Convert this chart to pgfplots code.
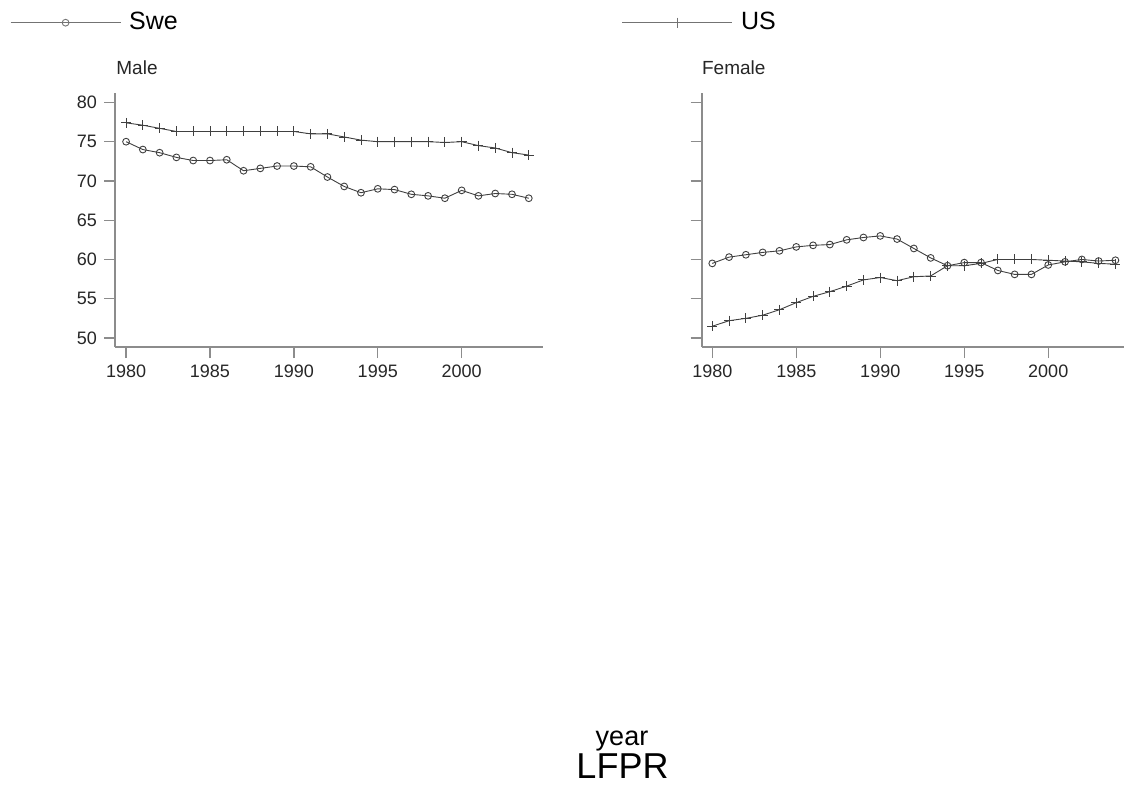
\documentclass[border=0pt]{standalone}
\usepackage{fontspec}
\setmainfont{Liberation Sans}
\usepackage{pgfplots}
\pgfplotsset{compat=1.18}
\usepackage{pgfplotstable}

\pgfplotstableread{
year swem usm swef usf
1980 75.0 77.4 59.5 51.5
1981 74.0 77.1 60.3 52.2
1982 73.6 76.7 60.6 52.5
1983 73.0 76.3 60.9 52.9
1984 72.6 76.3 61.1 53.6
1985 72.6 76.3 61.6 54.5
1986 72.7 76.3 61.8 55.3
1987 71.3 76.3 61.9 55.9
1988 71.6 76.3 62.5 56.6
1989 71.9 76.3 62.8 57.4
1990 71.9 76.3 63.0 57.7
1991 71.8 76.0 62.6 57.3
1992 70.5 76.0 61.4 57.8
1993 69.3 75.6 60.2 57.9
1994 68.5 75.2 59.2 59.2
1995 69.0 75.0 59.6 59.2
1996 68.9 75.0 59.6 59.5
1997 68.3 75.0 58.6 60.0
1998 68.1 75.0 58.1 60.0
1999 67.8 74.9 58.1 60.0
2000 68.8 75.0 59.3 59.9
2001 68.1 74.5 59.7 59.8
2002 68.4 74.2 60.0 59.7
2003 68.3 73.6 59.8 59.5
2004 67.8 73.3 59.9 59.4
}\lfpr

\pgfplotsset{
  panel/.style={
    scale only axis,
    axis lines=left,
    axis line style={-, black!45, line width=0.8pt},
    tick align=outside,
    major tick length=5.5pt,
    tick style={black!45, line width=0.7pt},
    xtick={1980,1985,...,2000},
    ytick={50,55,...,80},
    ymin=48.85, ymax=81.2,
    height=127pt,
    clip=false,
    ticklabel style={font=\fontsize{9}{10}\selectfont, text=black!85},
    /pgf/number format/1000 sep={},
    /pgf/number format/assume math mode=true,
  },
  swe/.style={black!75, line width=0.45pt, mark=o, mark size=1.7pt, mark options={solid, line width=0.45pt}},
  us/.style={black!75, line width=0.45pt, mark=+, mark size=2.5pt, mark options={solid, line width=0.45pt}},
}

\begin{document}
\begin{tikzpicture}
\path[use as bounding box] (0pt,0pt) rectangle (562.5pt,-394.5pt);

\begin{axis}[panel,
  at={(57.5pt,-173.5pt)}, anchor=south west,
  width=213.85pt,
  xmin=1979.34, xmax=2004.83,
  legend columns=2,
  legend image code/.code={\draw[mark repeat=2,mark phase=2,#1, black!55, line width=0.6pt] plot coordinates {(0pt,0pt) (27.5pt,0pt) (55pt,0pt)};},
  legend style={draw=none, fill=none, inner sep=0pt, outer sep=0pt,
    font=\fontsize{12.5}{14}\selectfont,
    at={(axis description cs:-0.2455,1.2768)}, anchor=west,
    nodes={inner sep=0pt},
    /tikz/every odd column/.append style={column sep=4pt},
    /tikz/every even column/.append style={column sep=222pt}},
]
\addplot[swe] table[x=year,y=swem]{\lfpr};
\addlegendentry{Swe}
\addplot[us] table[x=year,y=usm]{\lfpr};
\addlegendentry{US}
\end{axis}

\begin{axis}[panel,
  at={(350.85pt,-173.5pt)}, anchor=south west,
  width=211.15pt,
  xmin=1979.37, xmax=2004.51,
  yticklabel style={text opacity=0},
]
\addplot[swe] table[x=year,y=swef]{\lfpr};
\addplot[us] table[x=year,y=usf]{\lfpr};
\end{axis}

\node[anchor=base west, font=\fontsize{9.5}{11}\selectfont, text=black!85, inner sep=0pt] at (58pt,-37pt) {Male};
\node[anchor=base west, font=\fontsize{9.5}{11}\selectfont, text=black!85, inner sep=0pt] at (350.85pt,-37pt) {Female};
\node[anchor=base, font=\fontsize{13.5}{15}\selectfont, inner sep=0pt] at (311pt,-372.5pt) {year};
\node[anchor=base, font=\fontsize{18}{20}\selectfont, inner sep=0pt] at (311.25pt,-389.2pt) {LFPR};
\end{tikzpicture}
\end{document}
